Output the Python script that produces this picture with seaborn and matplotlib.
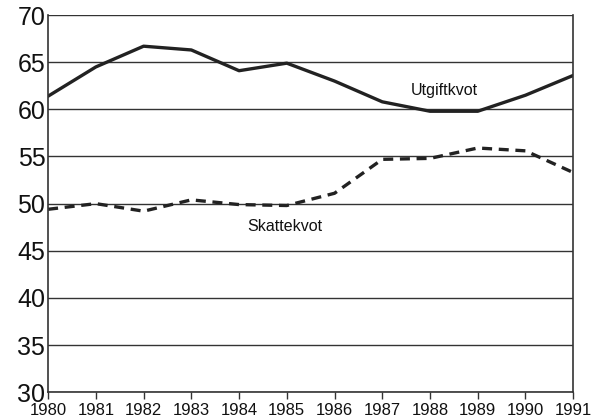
import matplotlib
matplotlib.use("Agg")
import matplotlib.pyplot as plt
import pandas as pd
import seaborn as sns

years = [1980, 1981, 1982, 1983, 1984, 1985, 1986, 1987, 1988, 1989, 1990, 1991]
utgiftkvot = [61.4, 64.5, 66.7, 66.3, 64.1, 64.9, 63.0, 60.8, 59.8, 59.8, 61.5, 63.6]
skattekvot = [49.4, 50.0, 49.2, 50.4, 49.9, 49.8, 51.1, 54.7, 54.8, 55.9, 55.6, 53.3]

df = pd.DataFrame({"år": years, "Utgiftkvot": utgiftkvot, "Skattekvot": skattekvot})

sns.set_style("white")
plt.rcParams["font.family"] = ["Liberation Sans", "DejaVu Sans"]

fig = plt.figure(figsize=(5.94, 4.19), dpi=100)
ax = fig.add_axes([0.081, 0.064, 0.884, 0.900])

sns.lineplot(data=df, x="år", y="Utgiftkvot", ax=ax, color="#222222", linewidth=2.4)
sns.lineplot(data=df, x="år", y="Skattekvot", ax=ax, color="#222222", linewidth=2.4,
             linestyle=(0, (3, 2)))

ax.set_xlim(1980, 1991)
ax.set_ylim(30, 70)
ax.set_xticks(years)
ax.set_yticks(range(30, 71, 5))
ax.set_xlabel("")
ax.set_ylabel("")
ax.yaxis.grid(True, color="#333333", linewidth=1.0)
ax.set_axisbelow(True)

for s in ax.spines.values():
    s.set_color("#333333")
    s.set_linewidth(1.2)
ax.spines["top"].set_visible(False)

ax.tick_params(axis="x", direction="out", length=5, width=1, color="#333333",
               labelsize=12, pad=3, bottom=True)
ax.tick_params(axis="y", length=0, labelsize=18, pad=2, labelcolor="#111111")
for lab in ax.get_xticklabels():
    lab.set_color("#111111")

ax.text(1987.6, 62.0, "Utgiftkvot", fontsize=11.5, ha="left", va="center", color="#111111")
ax.text(1984.17, 47.6, "Skattekvot", fontsize=11.5, ha="left", va="center", color="#111111")

fig.savefig("out.png", dpi=100)
